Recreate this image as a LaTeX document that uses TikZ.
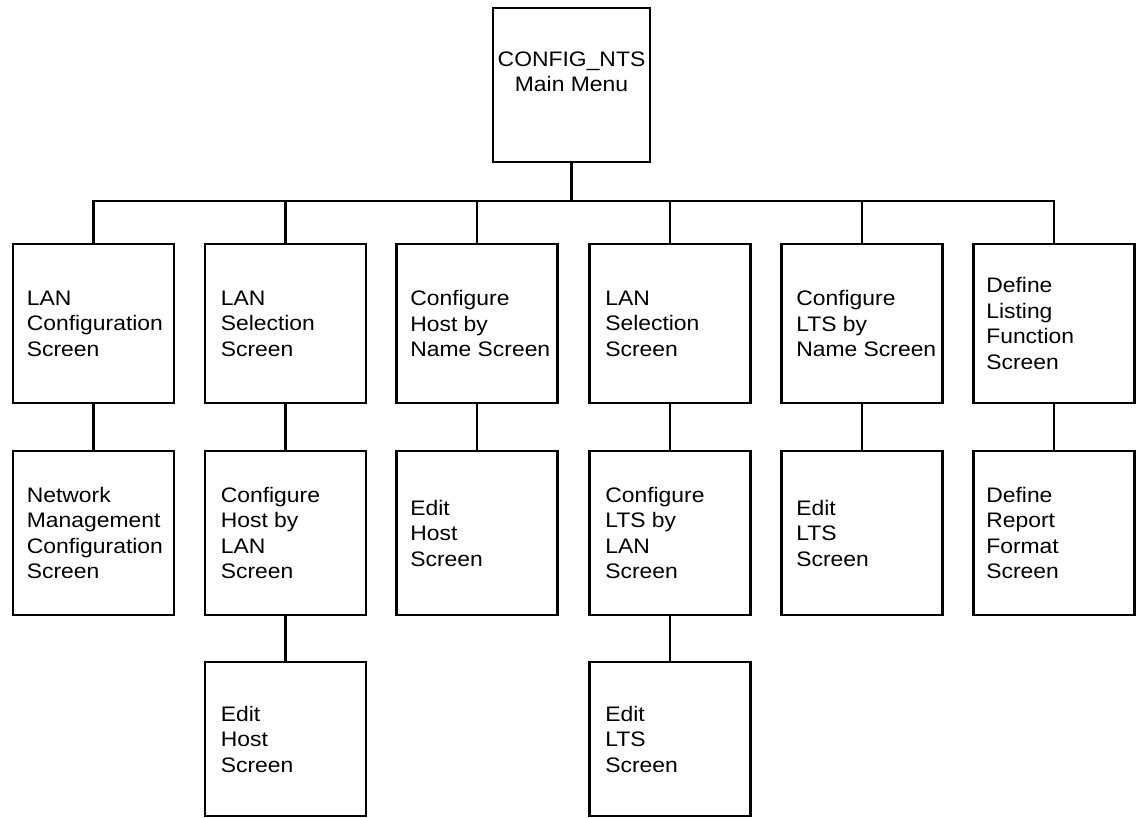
\documentclass[tikz,border=0pt]{standalone}
\usepackage{fontspec}
\setmainfont{Liberation Sans}[FakeStretch=1.09]
\begin{document}
\begin{tikzpicture}[x=1pt,y=-1pt,
  box/.style={draw, line width=2.8pt, minimum width=161pt, inner sep=0pt, line join=miter},
  lbl/.style={anchor=west, align=left, inner sep=0pt, font=\fontsize{21}{25.5}\selectfont},
  ttl/.style={align=center, inner sep=0pt, font=\fontsize{21}{25.5}\selectfont},
  link/.style={line width=2.8pt, line join=miter}]
\useasboundingbox (0,0) rectangle (1136,818);
% top box
\node[box, minimum width=157pt, minimum height=154pt] (b0) at (571.5,85) {};
\node[ttl] (t0) at ([yshift=13pt]b0.center) {CONFIG\_NTS\\Main Menu};
\coordinate (bus) at (0,201);
% row 1
\node[box, minimum height=159pt] (a1) at (93.5,323.5) {};
\node[box, minimum height=159pt] (a2) at (285.5,323.5) {};
\node[box, minimum height=159pt] (a3) at (477,323.5) {};
\node[box, minimum height=159pt] (a4) at (670,323.5) {};
\node[box, minimum height=159pt] (a5) at (862,323.5) {};
\node[box, minimum height=159pt] (a6) at (1054,323.5) {};
\node[lbl] (ta1) at ([xshift=15pt]a1.west) {LAN\\Configuration\\Screen};
\node[lbl] (ta2) at ([xshift=17pt]a2.west) {LAN\\Selection\\Screen};
\node[lbl] (ta3) at ([xshift=15pt]a3.west) {Configure\\Host by\\Name Screen};
\node[lbl] (ta4) at ([xshift=17pt]a4.west) {LAN\\Selection\\Screen};
\node[lbl] (ta5) at ([xshift=16pt]a5.west) {Configure\\LTS by\\Name Screen};
\node[lbl] (ta6) at ([xshift=14pt]a6.west) {Define\\Listing\\Function\\Screen};
% row 2
\node[box, minimum height=164pt] (m1) at (93.5,533) {};
\node[box, minimum height=164pt] (m2) at (285.5,533) {};
\node[box, minimum height=164pt] (m3) at (477,533) {};
\node[box, minimum height=164pt] (m4) at (670,533) {};
\node[box, minimum height=164pt] (m5) at (862,533) {};
\node[box, minimum height=164pt] (m6) at (1054,533) {};
\node[lbl] (tm1) at ([xshift=15pt]m1.west) {Network\\Management\\Configuration\\Screen};
\node[lbl] (tm2) at ([xshift=17pt]m2.west) {Configure\\Host by\\LAN\\Screen};
\node[lbl] (tm3) at ([xshift=15pt]m3.west) {Edit\\Host\\Screen};
\node[lbl] (tm4) at ([xshift=17pt]m4.west) {Configure\\LTS by\\LAN\\Screen};
\node[lbl] (tm5) at ([xshift=16pt]m5.west) {Edit\\LTS\\Screen};
\node[lbl] (tm6) at ([xshift=14pt]m6.west) {Define\\Report\\Format\\Screen};
% row 3
\node[box, minimum height=154pt] (l2) at (285.5,739) {};
\node[box, minimum height=154pt] (l4) at (670,739) {};
\node[lbl] (tl2) at ([xshift=17pt]l2.west) {Edit\\Host\\Screen};
\node[lbl] (tl4) at ([xshift=17pt]l4.west) {Edit\\LTS\\Screen};
% connectors
\draw[link] (b0.south) -- (b0.south |- bus);
\draw[link] (a1.north) -- (a1.north |- bus) -- (a6.north |- bus) -- (a6.north);
\foreach \n in {2,3,4,5} \draw[link] (a\n.north) -- (a\n.north |- bus);
\foreach \n in {1,...,6} \draw[link] (a\n.south) -- (m\n.north);
\draw[link] (m2.south) -- (l2.north);
\draw[link] (m4.south) -- (l4.north);
\end{tikzpicture}
\end{document}
